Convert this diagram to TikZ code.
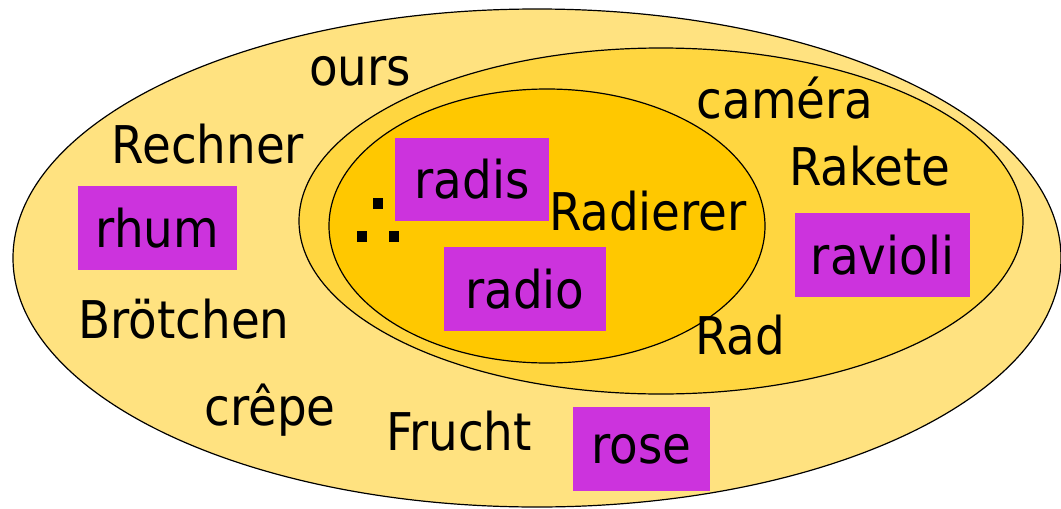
\documentclass[tikz,border=0pt]{standalone}
\usepackage{fontspec}
\setmainfont{DejaVu Sans Condensed}
\definecolor{outerY}{RGB}{255,226,128}
\definecolor{midY}{RGB}{255,214,64}
\definecolor{innerY}{RGB}{255,200,0}
\definecolor{boxP}{RGB}{204,51,221}
\tikzset{
  word/.style={anchor=base, inner sep=0pt, font=\fontsize{52}{62}\selectfont},
  pbox/.style={fill=boxP, inner sep=0pt, font=\fontsize{52}{62}\selectfont},
  setline/.style={draw=black, line width=1.2pt},
  dotsq/.style={fill=black}
}
\begin{document}
\begin{tikzpicture}[x=1pt,y=-1pt]
\useasboundingbox (0,0) rectangle (1061,509);
\fill[white] (0,0) rectangle (1061,509);
\draw[setline, fill=outerY] (537,258) ellipse [x radius=524, y radius=249];
\draw[setline, fill=midY] (661,221) ellipse [x radius=362, y radius=173];
\draw[setline, fill=innerY] (547,226) ellipse [x radius=218, y radius=137];
% dots
\fill[dotsq] (373,198) rectangle (383,209);
\fill[dotsq] (357,231) rectangle (367,242);
\fill[dotsq] (389,231) rectangle (399,242);
% words
\node[word] (ours) at (360,85) {ours};
\node[word] (rechner) at (208,163) {Rechner};
\node[word] (broetchen) at (184,338) {Brötchen};
\node[word] (crepe) at (270,425) {crêpe};
\node[word] (frucht) at (459,450) {Frucht};
\node[word] (radierer) at (648,230) {Radierer};
\node[word] (camera) at (785,118) {caméra};
\node[word] (rakete) at (870,185) {Rakete};
\node[word] (rad) at (740,354) {Rad};
% boxes
\node[pbox, minimum width=159, minimum height=84] (rhum) at (157.5,228) {rhum};
\node[pbox, minimum width=154, minimum height=83] (radis) at (472,179.5) {radis};
\node[pbox, minimum width=162, minimum height=84] (radio) at (525,289) {radio};
\node[pbox, minimum width=175, minimum height=84] (ravioli) at (882.5,255) {ravioli};
\node[pbox, minimum width=137, minimum height=84] (rose) at (641.5,449) {rose};
\end{tikzpicture}
\end{document}
